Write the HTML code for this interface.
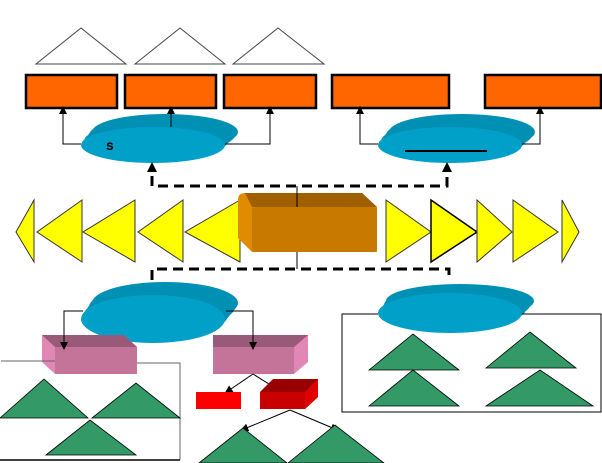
<!DOCTYPE html>
<html><head><style>body{margin:0;background:#fff}svg{display:block}</style></head><body>
<svg width="602" height="463" viewBox="0 0 602 463" xmlns="http://www.w3.org/2000/svg" font-family="Liberation Sans, sans-serif">
<defs>
<marker id="a" markerWidth="8" markerHeight="8" refX="4" refY="4" orient="auto" markerUnits="userSpaceOnUse"><path d="M0,0L8,4L0,8z" fill="#000"/></marker>
</defs>
<g fill="none" stroke="#444" stroke-width="1">
<path d="M36,64L81,28L126,64Z"/><path d="M135,64L180,28L225,64Z"/><path d="M233,64L278,28L324,64Z"/>
</g>
<g fill="#ff6600" stroke="#000" stroke-width="2.5">
<rect x="26" y="75" width="91" height="33"/><rect x="125" y="75" width="91" height="33"/><rect x="224" y="75" width="92" height="33"/>
<rect x="332" y="75" width="117" height="33"/><rect x="485" y="75" width="116" height="33"/>
</g>
<!-- disk1 -->
<g fill="#0090b4">
<ellipse cx="165" cy="132" rx="73" ry="18"/><ellipse cx="162" cy="135" rx="73" ry="18"/><ellipse cx="159" cy="138" rx="72" ry="18"/><ellipse cx="156" cy="141" rx="72" ry="18"/>
</g>
<ellipse cx="153" cy="145" rx="72" ry="18" fill="#00a0c8"/>
<g fill="#0090b4">
<ellipse cx="462" cy="132" rx="73" ry="18"/><ellipse cx="459" cy="135" rx="73" ry="18"/><ellipse cx="456" cy="138" rx="72" ry="18"/><ellipse cx="453" cy="141" rx="72" ry="18"/>
</g>
<ellipse cx="450" cy="145" rx="72" ry="18" fill="#00a0c8"/>
<text x="106" y="150" font-size="14" font-weight="bold">s</text>
<line x1="405" y1="151" x2="487" y2="151" stroke="#000" stroke-width="2"/>
<g stroke="#000" stroke-width="1" fill="none" marker-end="url(#a)">
<path d="M81,144H63V110"/><path d="M225,144H270V110"/><path d="M171,127V110"/>
<path d="M378,144H360V110"/><path d="M522,144H540V110"/>
</g>
<g stroke="#000" stroke-width="3" fill="none" stroke-dasharray="10,6">
<path d="M152,176V186H447V176"/>
<path d="M152,280V269H449V278"/>
</g>
<path d="M147,172L152,162L157,172Z" fill="#000"/>
<path d="M442,172L447,162L452,172Z" fill="#000"/>
<path d="M148,287L152,296L156,287Z" fill="#000"/>
<g fill="#ffff00" stroke="#333" stroke-width="1">
<path d="M34,200L16,232L34,262Z"/><path d="M82,200L37,232L82,262Z"/><path d="M135,200L83,232L135,262Z"/>
<path d="M183,200L138,232L183,262Z"/><path d="M240,200L185,232L240,262Z"/>
<path d="M386,200L431,232L386,262Z"/><path d="M431,200L477,232L431,262Z" stroke="#000" stroke-width="1.5"/>
<path d="M477,200L512,232L477,262Z"/><path d="M513,200L558,232L513,262Z"/><path d="M562,200L579,232L562,262Z"/>
</g>
<path d="M238,200Q238,193 245,193H362L377,207V252H252L238,238Z" fill="#e08c00"/>
<path d="M245,193H362L377,207H252Z" fill="#a06000"/>
<rect x="252" y="207" width="125" height="45" rx="3" fill="#c87a00"/>
<line x1="297" y1="186" x2="297" y2="207" stroke="#000"/>
<line x1="297" y1="252" x2="297" y2="269" stroke="#000"/>
<!-- lower disks -->
<g fill="#0090b4">
<ellipse cx="165" cy="303" rx="73" ry="21"/><ellipse cx="162" cy="307" rx="73" ry="22"/><ellipse cx="159" cy="311" rx="72" ry="23"/><ellipse cx="156" cy="315" rx="72" ry="23"/>
</g>
<ellipse cx="153" cy="319" rx="72" ry="24" fill="#00a0c8"/>
<g fill="#0090b4">
<ellipse cx="460" cy="301" rx="74" ry="17"/><ellipse cx="457" cy="305" rx="73" ry="18"/><ellipse cx="454" cy="309" rx="72" ry="19"/>
</g>
<ellipse cx="450" cy="313" rx="72" ry="20" fill="#00a0c8"/>
<path d="M42,335H124L137,347V374H55L42,362Z" fill="#e087b5"/>
<path d="M42,335H124L137,347H55Z" fill="#985a78"/>
<rect x="55" y="347" width="82" height="27" fill="#c47498"/>
<path d="M213,335H294L308,335V362L294,374H213Z" fill="#e087b5"/>
<path d="M213,335H308L294,347H213Z" fill="#985a78"/>
<rect x="213" y="347" width="81" height="27" fill="#c47498"/>
<g stroke="#000" stroke-width="1" fill="none" marker-end="url(#a)">
<path d="M83,311H64V346"/><path d="M226,311H253V346"/>
<path d="M253,374L228,391"/><path d="M253,374L280,391"/>
<path d="M290,410L244,429"/><path d="M290,410L335,429"/>
</g>
<g stroke="#000" stroke-width="1" fill="none">
<path d="M1,361H55" stroke="#666"/><path d="M137,363H180V460" stroke="#666"/><path d="M0,460H180" stroke-width="1.5"/>
</g>
<g fill="#339966" stroke="#000" stroke-width="0.8">
<path d="M0,418L44,379L88,418Z"/><path d="M92,418L136,383L180,418Z"/><path d="M46,455L90,420L136,455Z"/>
<path d="M199,463L243,428L287,463Z"/><path d="M288,463L335,425L384,463Z"/>
</g>
<rect x="196" y="392" width="45" height="17" fill="#ff0000"/>
<path d="M260,392L273,379H318V397L305,409Z" fill="#990000"/>
<rect x="260" y="392" width="45" height="17" fill="#c80000"/>
<path d="M305,392L318,379V397L305,409Z" fill="#e00000"/>
<g stroke="#000" stroke-width="1" fill="none">
<path d="M378,314H342V412H601V314H522"/>
</g>
<g fill="#339966" stroke="#000" stroke-width="0.8">
<path d="M369,370L413,334L459,370Z"/><path d="M486,368L530,332L576,368Z"/>
<path d="M369,406L413,370L459,406Z"/><path d="M486,406L540,370L593,406Z"/>
</g>
</svg>
</body></html>
